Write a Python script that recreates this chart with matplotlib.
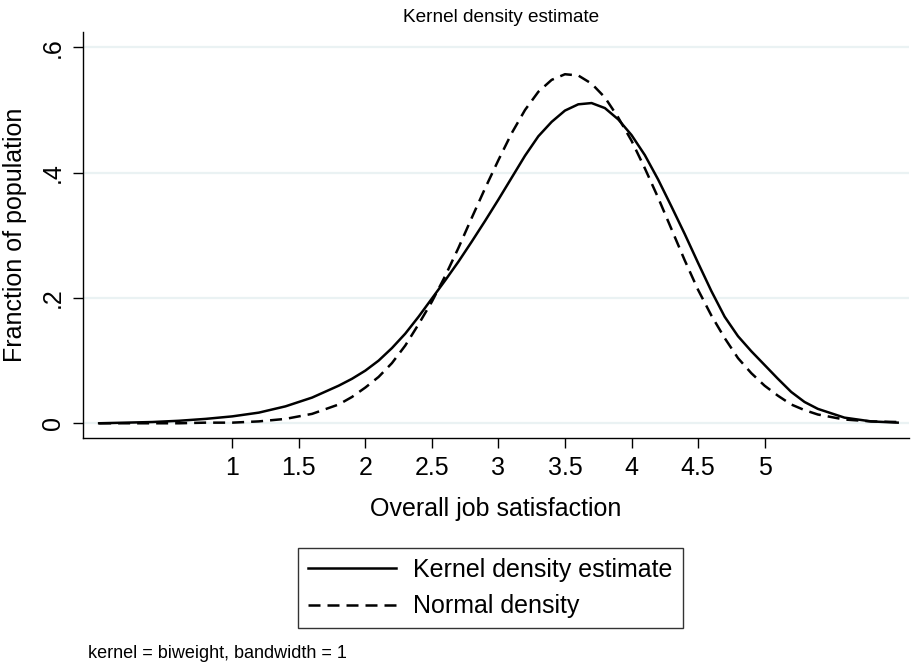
import matplotlib
matplotlib.use("Agg")
import matplotlib.pyplot as plt

plt.rcParams['font.family'] = ['Liberation Sans', 'DejaVu Sans']

# evaluation points (job satisfaction)
x_vals = [0.0, 0.2, 0.4, 0.6, 0.8, 1.0, 1.2, 1.4, 1.6,
          1.8, 1.9, 2.0, 2.1, 2.2, 2.3, 2.4, 2.5, 2.6, 2.7, 2.8, 2.9,
          3.0, 3.1, 3.2, 3.3, 3.4, 3.5, 3.6, 3.7, 3.8, 3.9,
          4.0, 4.1, 4.2, 4.3, 4.4, 4.5, 4.6, 4.7, 4.8, 4.9,
          5.0, 5.1, 5.2, 5.3, 5.4, 5.6, 5.8, 6.0]

# biweight kernel density estimate
kde_vals = [0.000, 0.001, 0.002, 0.004, 0.007, 0.011, 0.017, 0.027, 0.041,
            0.060, 0.071, 0.084, 0.100, 0.120, 0.143, 0.170, 0.199, 0.228, 0.258, 0.290, 0.323,
            0.357, 0.392, 0.427, 0.458, 0.481, 0.499, 0.509, 0.511, 0.503, 0.485,
            0.460, 0.428, 0.389, 0.346, 0.302, 0.256, 0.211, 0.170, 0.139, 0.115,
            0.093, 0.071, 0.050, 0.034, 0.023, 0.009, 0.003, 0.001]

# normal density
norm_vals = [0.000, 0.000, 0.000, 0.000, 0.001, 0.001, 0.003, 0.007, 0.015,
             0.030, 0.042, 0.057, 0.074, 0.096, 0.124, 0.158, 0.194, 0.235, 0.280, 0.328, 0.375,
             0.420, 0.463, 0.500, 0.529, 0.548, 0.557, 0.555, 0.542, 0.520, 0.488,
             0.451, 0.407, 0.360, 0.310, 0.260, 0.213, 0.172, 0.136, 0.104, 0.080,
             0.060, 0.044, 0.030, 0.021, 0.014, 0.006, 0.003, 0.002]

x_ticks = [1, 1.5, 2, 2.5, 3, 3.5, 4, 4.5, 5]
x_ticklabels = ['1', '1.5', '2', '2.5', '3', '3.5', '4', '4.5', '5']
y_ticks = [0, 0.2, 0.4, 0.6]
y_ticklabels = ['0', '.2', '.4', '.6']

W, H = 911, 671
fig = plt.figure(figsize=(W / 100, H / 100), dpi=100)
ax = fig.add_axes([83.3 / W, 1 - 438 / H, (909 - 83.3) / W, (438 - 32) / H])

ax.plot(x_vals, kde_vals, color='black', lw=1.8, label='Kernel density estimate', zorder=3)
ax.plot(x_vals, norm_vals, color='black', lw=1.8, linestyle=(0, (4.8, 2.8)),
        label='Normal density', zorder=3)

ax.set_xlim(-0.119, 6.085)
ax.set_ylim(-0.0235, 0.6244)

ax.set_xticks(x_ticks)
ax.set_xticklabels(x_ticklabels)
ax.set_yticks(y_ticks)
ax.set_yticklabels(y_ticklabels, rotation=90, va='center')
ax.tick_params(axis='both', labelsize=18, length=7, width=1, color='black')
ax.tick_params(axis='x', pad=6)
ax.tick_params(axis='y', pad=6)

ax.grid(axis='y', color='#eaf2f3', lw=1.6, zorder=0)
ax.set_axisbelow(True)

for side in ['top', 'right']:
    ax.spines[side].set_visible(False)
for side in ['left', 'bottom']:
    ax.spines[side].set_linewidth(1)
    ax.spines[side].set_color('black')

ax.set_xlabel('Overall job satisfaction', fontsize=18, labelpad=12)
ax.set_ylabel('Franction of population', fontsize=18, labelpad=10)

fig.text(501 / W, 1 - 17 / H, 'Kernel density estimate', fontsize=13.7,
         ha='center', va='center')

leg = fig.legend(loc='center', bbox_to_anchor=(490.5 / W, 1 - 588 / H),
                 fontsize=18, frameon=True, fancybox=False, edgecolor='black',
                 handlelength=3.5, handletextpad=0.7, labelspacing=0.5,
                 borderpad=0.4)
leg.get_frame().set_linewidth(1)

fig.text(88 / W, 1 - 653 / H, 'kernel = biweight, bandwidth = 1', fontsize=13,
         ha='left', va='center')

fig.savefig('out.png', dpi=100)
